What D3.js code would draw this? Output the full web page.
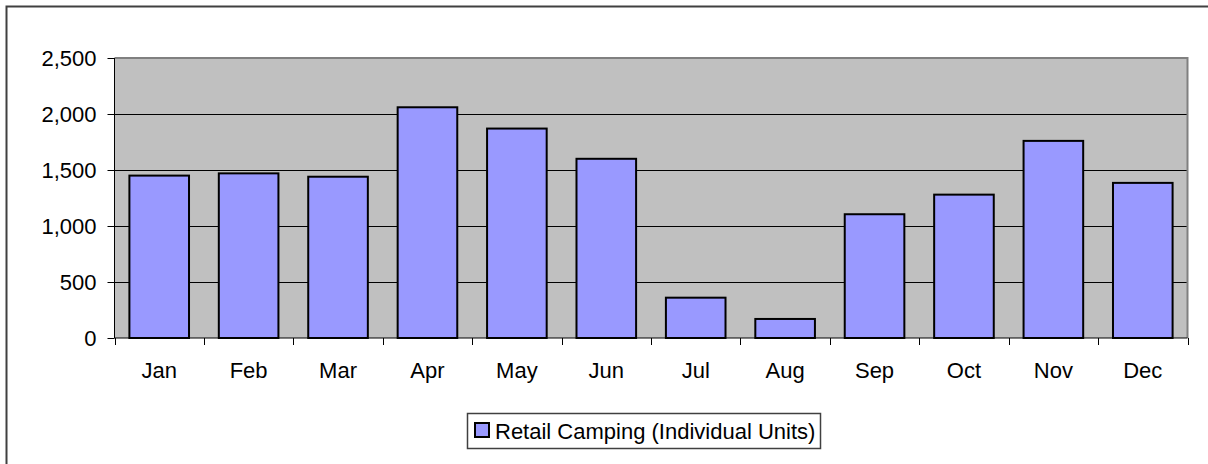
<!DOCTYPE html>
<html>
<head>
<meta charset="utf-8">
<script src="https://cdn.jsdelivr.net/npm/d3@7"></script>
<style>
  html, body { margin: 0; padding: 0; background: #fff; }
  svg { display: block; }
  text { font-family: "Liberation Sans", Arial, sans-serif; fill: #000; }
</style>
</head>
<body>
<svg id="chart" width="1208" height="464"></svg>
<script>
const months = ["Jan", "Feb", "Mar", "Apr", "May", "Jun", "Jul", "Aug", "Sep", "Oct", "Nov", "Dec"];
const values = [1450, 1470, 1440, 2060, 1870, 1600, 360, 170, 1105, 1280, 1760, 1385];
const yTicks = [0, 500, 1000, 1500, 2000, 2500];
const seriesName = "Retail Camping (Individual Units)";

const svg = d3.select("#chart");
const W = 1208, H = 464;
const plot = { left: 114.5, right: 1187.5, top: 58, bottom: 338 };
const FS = "22px";

// outer chart frame
svg.append("rect")
  .attr("x", 6.5).attr("y", 6.5)
  .attr("width", W + 20).attr("height", H + 20)
  .attr("fill", "#fff").attr("stroke", "#404040").attr("stroke-width", 2);

const x = d3.scaleBand()
  .domain(months)
  .range([plot.left, plot.right])
  .paddingInner(1 / 3)
  .paddingOuter(1 / 6);

const y = d3.scaleLinear().domain([0, 2500]).range([plot.bottom, plot.top]);

// plot area background
svg.append("rect")
  .attr("x", plot.left).attr("y", plot.top)
  .attr("width", plot.right - plot.left).attr("height", plot.bottom - plot.top)
  .attr("fill", "#C0C0C0");

// gridlines
svg.append("g").selectAll("line")
  .data(yTicks.filter(d => d > 0 && d < 2500))
  .join("line")
  .attr("x1", plot.left).attr("x2", plot.right)
  .attr("y1", d => Math.round(y(d)) + 0.5).attr("y2", d => Math.round(y(d)) + 0.5)
  .attr("stroke", "#000").attr("stroke-width", 1);

// plot border (top & right gray)
svg.append("path")
  .attr("d", `M${plot.left},${plot.top} H${plot.right} V${plot.bottom}`)
  .attr("fill", "none").attr("stroke", "#808080").attr("stroke-width", 2);

// bars
svg.append("g").selectAll("rect")
  .data(values)
  .join("rect")
  .attr("x", (d, i) => x(months[i]))
  .attr("y", d => y(d))
  .attr("width", x.bandwidth())
  .attr("height", d => y(0) - y(d))
  .attr("fill", "#9999FF")
  .attr("stroke", "#000")
  .attr("stroke-width", 2);

// y axis
const yAxis = d3.axisLeft(y).tickValues(yTicks).tickSize(7).tickPadding(11)
  .tickFormat(d3.format(","));
const gy = svg.append("g").attr("transform", `translate(${plot.left},0)`).call(yAxis);
gy.select(".domain").attr("stroke", "#000").attr("d", `M0,${plot.top}V${plot.bottom}`);
gy.selectAll(".tick line").attr("stroke", "#000");
gy.selectAll("text").style("font-size", FS).attr("fill", "#000")
  .style("font-family", '"Liberation Sans", Arial, sans-serif');

// x axis line and ticks at category boundaries
svg.append("line")
  .attr("x1", plot.left).attr("x2", plot.right)
  .attr("y1", plot.bottom).attr("y2", plot.bottom)
  .attr("stroke", "#000").attr("stroke-width", 1);
const step = x.step();
const bounds = months.map((m, i) => x(m) - (step - x.bandwidth()) / 2).concat([plot.right]);
svg.append("g").selectAll("line")
  .data(bounds)
  .join("line")
  .attr("x1", d => Math.round(d) + 0.5).attr("x2", d => Math.round(d) + 0.5)
  .attr("y1", plot.bottom).attr("y2", plot.bottom + 7)
  .attr("stroke", "#000");

svg.append("g").selectAll("text")
  .data(months)
  .join("text")
  .attr("x", d => x(d) + x.bandwidth() / 2)
  .attr("y", 378)
  .attr("text-anchor", "middle")
  .style("font-size", FS)
  .text(d => d);

// legend
const lg = svg.append("g");
lg.append("rect")
  .attr("x", 467.5).attr("y", 413.5).attr("width", 353).attr("height", 35)
  .attr("fill", "#fff").attr("stroke", "#404040").attr("stroke-width", 1.5);
lg.append("rect")
  .attr("x", 475).attr("y", 423).attr("width", 14).attr("height", 14)
  .attr("fill", "#9999FF").attr("stroke", "#000").attr("stroke-width", 2);
lg.append("text")
  .attr("x", 495).attr("y", 438.5)
  .style("font-size", FS)
  .text(seriesName);
</script>
</body>
</html>
